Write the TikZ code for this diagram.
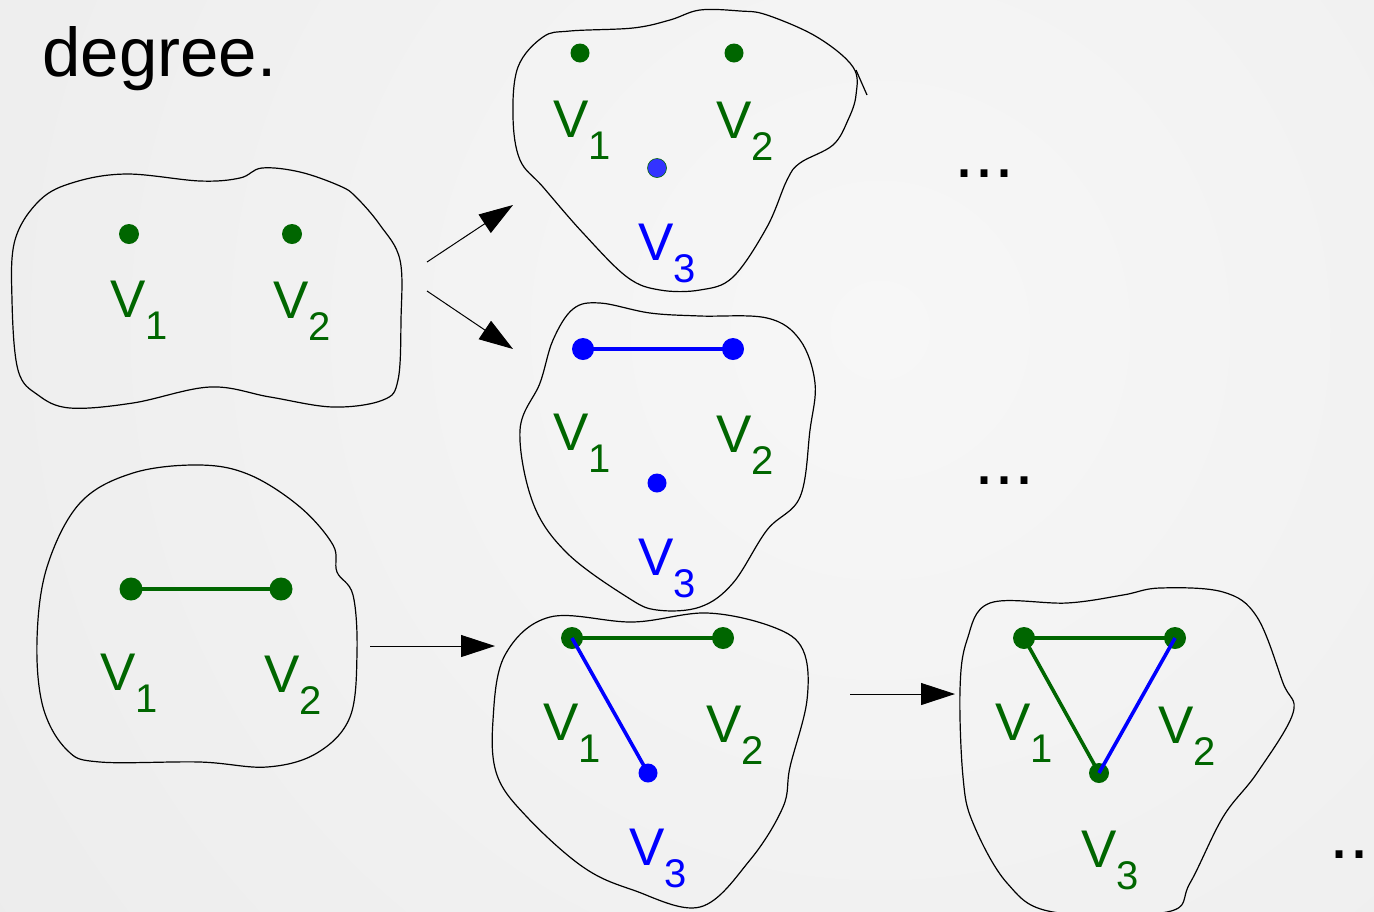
\documentclass[tikz,border=0pt]{standalone}
\usepackage{fontspec}
\setmainfont{Liberation Sans}
\usetikzlibrary{arrows.meta}
\definecolor{vg}{RGB}{0,102,0}
\definecolor{vb}{RGB}{0,0,255}
\definecolor{vbl}{RGB}{51,51,255}
\definecolor{bgin}{RGB}{247,247,247}
\definecolor{bgout}{RGB}{226,226,226}
\newcommand\vlab[1]{\fontsize{26.5}{30}\selectfont V\raisebox{-11pt}{\fontsize{20}{24}\selectfont #1}}
\begin{document}
\begin{tikzpicture}[x=0.5pt,y=-0.5pt,
  blob/.style={draw=black,line width=0.6pt},
  gdot/.style={circle,fill=vg,inner sep=0pt,minimum size=11pt},
  bdot/.style={circle,fill=vb,inner sep=0pt,minimum size=11pt},
  sdot/.style={minimum size=9.5pt},
  glab/.style={anchor=base west,inner sep=0pt,text=vg},
  blab/.style={anchor=base west,inner sep=0pt,text=vb},
  edgeg/.style={draw=vg,line width=1.8pt},
  edgeb/.style={draw=vb,line width=1.8pt},
  arr/.style={draw=black,line width=0.5pt,-{Triangle[length=17pt,width=11pt]}},
  dotsty/.style={anchor=base west,inner sep=0pt,font=\fontsize{36}{40}\selectfont},
  titlesty/.style={anchor=base west,inner sep=0pt,font=\fontsize{34.5}{40}\selectfont}]
\useasboundingbox (0,0) rectangle (1374,911);
\begin{scope}
\clip (0,0) rectangle (1374,911);
\shade[inner color=bgin,outer color=bgout] (880,330) circle (2100);
\end{scope}

% title fragment
\node[titlesty] (title) at (42,76) {degree.};

% Blob A (top left)
\draw[blob] plot[smooth cycle,tension=0.6] coordinates {
 (40,200) (75,182) (127,174) (200,181) (240,178) (262,168) (300,172) (340,186) (356,197)
 (380,225) (400,260) (401,320) (398,380) (383,400) (333,407) (270,397) (210,387)
 (133,403) (70,408) (38,395) (18,370) (12,300) (15,240)};
\node[gdot,sdot,minimum size=10pt] (a1) at (129,234) {};
\node[gdot,sdot,minimum size=10pt] (a2) at (292,234) {};
\node[glab] (la1) at (110,317) {\vlab{1}};
\node[glab] (la2) at (273,318) {\vlab{2}};

% Blob B (top middle)
\draw[blob] plot[smooth cycle,tension=0.6] coordinates {
 (543,37) (570,31) (633,28) (670,20) (700,10) (740,11) (767,15) (817,37) (853,67)
 (856,95) (848,120) (833,145) (800,163) (787,180) (767,227) (733,277) (700,290)
 (660,290) (627,277) (583,233) (543,187) (520,160) (513,117) (518,67)};
\draw[blob] (856,70) -- (867,95);
\node[gdot,sdot] (b1) at (580,53) {};
\node[gdot,sdot] (b2) at (734,53) {};
\node[circle,fill=vbl,draw=vg,line width=0.3pt,inner sep=0pt,minimum size=9.5pt] (b3) at (657,168) {};
\node[glab] (lb1) at (553,137) {\vlab{1}};
\node[glab] (lb2) at (716,138) {\vlab{2}};
\node[blab] (lb3) at (638,260) {\vlab{3}};

% Blob C (middle)
\draw[blob] plot[smooth cycle,tension=0.6] coordinates {
 (573,309) (600,303) (650,313) (700,316) (767,318) (800,340) (815,383) (810,430)
 (800,497) (767,530) (733,583) (700,607) (657,610) (627,597) (567,553) (533,503)
 (520,430) (540,383) (553,340)};
\node[bdot] (c1) at (583,349) {};
\node[bdot] (c2) at (733,349) {};
\node[bdot,sdot] (c3) at (657,483) {};
\node[glab] (lc1) at (553,450) {\vlab{1}};
\node[glab] (lc2) at (716,452) {\vlab{2}};
\node[blab] (lc3) at (638,575) {\vlab{3}};
\draw[edgeb] (c1.center) -- (c2.center);

% Blob D (bottom left)
\draw[blob] plot[smooth cycle,tension=0.6] coordinates {
 (133,473) (200,465) (250,475) (300,507) (333,545) (337,572) (353,595) (357,653)
 (350,717) (317,753) (267,767) (200,762) (100,762) (67,750) (43,707) (37,640)
 (47,567) (80,503)};
\node[gdot,minimum size=11.5pt] (d1) at (131,589) {};
\node[gdot,minimum size=11.5pt] (d2) at (281,589) {};
\node[glab] (ld1) at (100,690) {\vlab{1}};
\node[glab] (ld2) at (264,692) {\vlab{2}};
\draw[edgeg] (d1.center) -- (d2.center);

% Blob E (bottom middle)
\draw[blob] plot[smooth cycle,tension=0.6] coordinates {
 (550,617) (633,622) (707,613) (773,627) (803,650) (807,700) (790,767) (783,807)
 (750,860) (700,907) (633,890) (583,867) (527,817) (497,775) (493,720) (505,655)};
\node[gdot] (e1) at (572,638) {};
\node[gdot] (e2) at (723,638) {};
\node[bdot,sdot] (e3) at (648,773) {};
\node[glab] (le1) at (543,740) {\vlab{1}};
\node[glab] (le2) at (706,742) {\vlab{2}};
\node[blab] (le3) at (629,865) {\vlab{3}};
\draw[edgeg] (e1.center) -- (e2.center);
\draw[edgeb] (e1.center) -- (e3.center);

% Blob F (bottom right)
\draw[blob] plot[smooth cycle,tension=0.6] coordinates {
 (990,603) (1067,603) (1123,595) (1160,588) (1223,592) (1257,617) (1283,683)
 (1293,713) (1257,773) (1223,817) (1190,883) (1167,912) (1053,912) (1007,883)
 (973,823) (963,777) (960,690) (967,640)};
\node[gdot] (f1) at (1024,638) {};
\node[gdot] (f2) at (1175,638) {};
\node[gdot,sdot,minimum size=10pt] (f3) at (1099,773) {};
\node[glab] (lf1) at (995,740) {\vlab{1}};
\node[glab] (lf2) at (1158,743) {\vlab{2}};
\node[glab] (lf3) at (1081,867) {\vlab{3}};
\draw[edgeg] (f1.center) -- (f2.center);
\draw[edgeg] (f1.center) -- (f3.center);
\draw[edgeb] (f2.center) -- (f3.center);

% arrows between blobs
\coordinate (pA1) at (427,262);
\coordinate (pB) at (513,205);
\coordinate (pA2) at (427,291);
\coordinate (pC) at (513,349);
\coordinate (pD) at (370,646);
\coordinate (pE) at (495,646);
\coordinate (pE2) at (850,694);
\coordinate (pF) at (955,694);
\draw[arr] (pA1) -- (pB);
\draw[arr] (pA2) -- (pC);
\draw[arr] (pD) -- (pE);
\draw[arr] (pE2) -- (pF);

% ellipses
\node[dotsty] (dots1) at (954,177) {...};
\node[dotsty] (dots2) at (974,484) {...};
\node[dotsty] (dots3) at (1329,858) {...};
\end{tikzpicture}
\end{document}
